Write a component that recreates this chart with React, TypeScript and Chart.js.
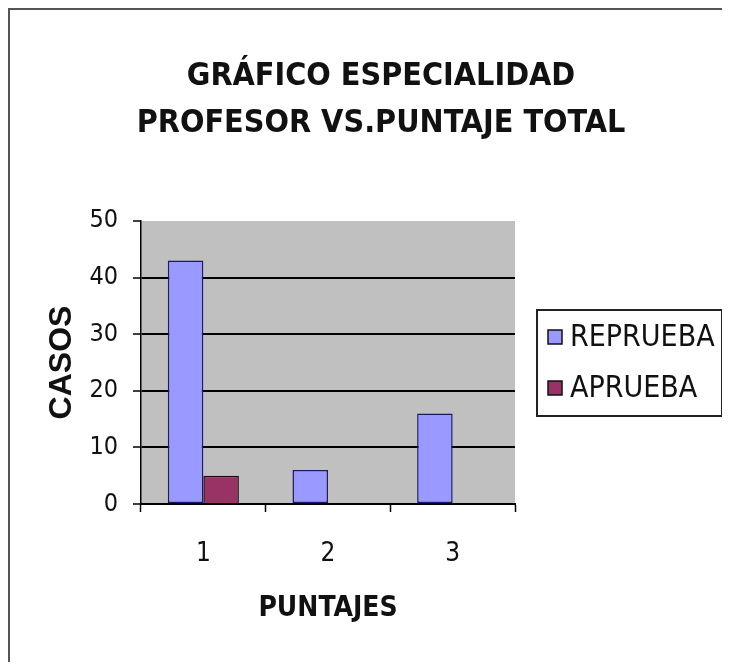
import React, { useEffect, useRef } from "react";
import { Chart, registerables } from "chart.js";

Chart.register(...registerables);

const categories = ["1", "2", "3"];
const seriesNames = ["REPRUEBA", "APRUEBA"];
const reprueba = [43, 6, 16];
const aprueba = [5, 0, 0];
const titleLines = ["GRÁFICO ESPECIALIDAD", "PROFESOR VS.PUNTAJE TOTAL"];
const yAxisTitle = "CASOS";
const xAxisTitle = "PUNTAJES";
const yMin = 0;
const yMax = 50;
const yStep = 10;

const seriesColors = ["#9999FF", "#993366"];
const seriesBorders = ["#1a1a66", "#1a0a10"];

const NARROW = "'DejaVu Sans Condensed', 'Liberation Sans Narrow', sans-serif";
const WIDE = "'Liberation Sans', Arial, sans-serif";

const W = 722;
const H = 654;

const bgPlugin = {
  id: "bgFrame",
  beforeDraw(chart: any) {
    const { ctx, chartArea } = chart;
    ctx.save();
    ctx.fillStyle = "#ffffff";
    ctx.fillRect(0, 0, chart.width, chart.height);
    ctx.fillStyle = "#C0C0C0";
    ctx.fillRect(chartArea.left, chartArea.top, chartArea.right - chartArea.left, chartArea.bottom - chartArea.top);
    ctx.strokeStyle = "#555555";
    ctx.lineWidth = 2;
    ctx.beginPath();
    ctx.moveTo(1, chart.height);
    ctx.lineTo(1, 1);
    ctx.lineTo(chart.width, 1);
    ctx.stroke();
    ctx.restore();
  },
};

const legendPlugin = {
  id: "boxLegend",
  afterDraw(chart: any) {
    const { ctx } = chart;
    const bx = 529, by = 302, bw = 185, bh = 106;
    ctx.save();
    ctx.strokeStyle = "#222222";
    ctx.lineWidth = 2;
    ctx.strokeRect(bx, by, bw, bh);
    const rows = [329, 380];
    chart.data.datasets.forEach((ds: any, i: number) => {
      const cy = rows[i];
      ctx.fillStyle = ds.backgroundColor;
      ctx.fillRect(540, cy - 7, 14, 14);
      ctx.strokeStyle = "#111111";
      ctx.lineWidth = 1.5;
      ctx.strokeRect(540, cy - 7, 14, 14);
      ctx.fillStyle = "#111111";
      ctx.font = `30px ${NARROW}`;
      ctx.textBaseline = "middle";
      ctx.textAlign = "left";
      ctx.fillText(ds.label, 562, cy + 1);
    });
    ctx.restore();
  },
};

export default function App() {
  const ref = useRef<HTMLCanvasElement | null>(null);

  useEffect(() => {
    if (!ref.current) return;
    const chart = new Chart(ref.current, {
      type: "bar",
      data: {
        labels: categories,
        datasets: [
          {
            label: seriesNames[0],
            data: reprueba,
            backgroundColor: seriesColors[0],
            borderColor: seriesBorders[0],
            borderWidth: 1.5,
            borderSkipped: false,
          },
          {
            label: seriesNames[1],
            data: aprueba,
            backgroundColor: seriesColors[1],
            borderColor: seriesBorders[1],
            borderWidth: 1.5,
            borderSkipped: "bottom",
          },
        ],
      },
      options: {
        responsive: false,
        animation: false,
        devicePixelRatio: 1,
        layout: { padding: { left: 24, right: 0, top: 0, bottom: 0 } },
        datasets: {
          bar: { categoryPercentage: 0.57, barPercentage: 1.0 },
        },
        plugins: {
          legend: { display: false },
          tooltip: { enabled: false },
          title: {
            display: true,
            text: titleLines,
            color: "#111111",
            font: { family: NARROW, size: 32, weight: "bold", lineHeight: 1.47 },
            padding: { top: 45.4, bottom: 73.5 },
          },
        },
        scales: {
          x: {
            offset: true,
            afterFit(scale: any) {
              scale.height = 158;
            },
            grid: {
              offset: true,
              drawOnChartArea: false,
              drawTicks: true,
              tickLength: 8,
              tickColor: "#000000",
              tickWidth: 1.5,
            },
            border: { display: true, color: "#000000", width: 2 },
            ticks: {
              color: "#111111",
              font: { family: NARROW, size: 26 },
              padding: 27,
            },
            title: {
              display: true,
              text: xAxisTitle,
              color: "#111111",
              font: { family: NARROW, size: 28, weight: "bold" },
              padding: { top: 0, bottom: 36 },
            },
          },
          y: {
            min: yMin,
            max: yMax,
            afterFit(scale: any) {
              scale.width = 109;
            },
            grid: {
              drawOnChartArea: true,
              color: (ctx: any) => (ctx.tick && ctx.tick.value === yMax ? "rgba(0,0,0,0)" : "#000000"),
              lineWidth: 2,
              drawTicks: true,
              tickLength: 8,
              tickColor: "#000000",
              tickWidth: 1.5,
            },
            border: { display: true, color: "#000000", width: 1.5 },
            ticks: {
              stepSize: yStep,
              color: "#111111",
              font: { family: NARROW, size: 25 },
              padding: 15,
            },
            title: {
              display: true,
              text: yAxisTitle,
              color: "#111111",
              font: { family: WIDE, size: 32, weight: "bold" },
              padding: { top: 11, bottom: 0 },
            },
          },
          spacer: {
            type: "linear",
            position: "right",
            display: true,
            afterFit(scale: any) {
              scale.width = 215;
            },
            grid: { display: false, drawTicks: false },
            border: { display: false },
            ticks: { display: false },
          },
        },
      },
      plugins: [bgPlugin, legendPlugin],
    });
    return () => chart.destroy();
  }, []);

  return (
    <canvas
      ref={ref}
      width={W}
      height={H}
      style={{ display: "block", width: W, height: H }}
    />
  );
}
